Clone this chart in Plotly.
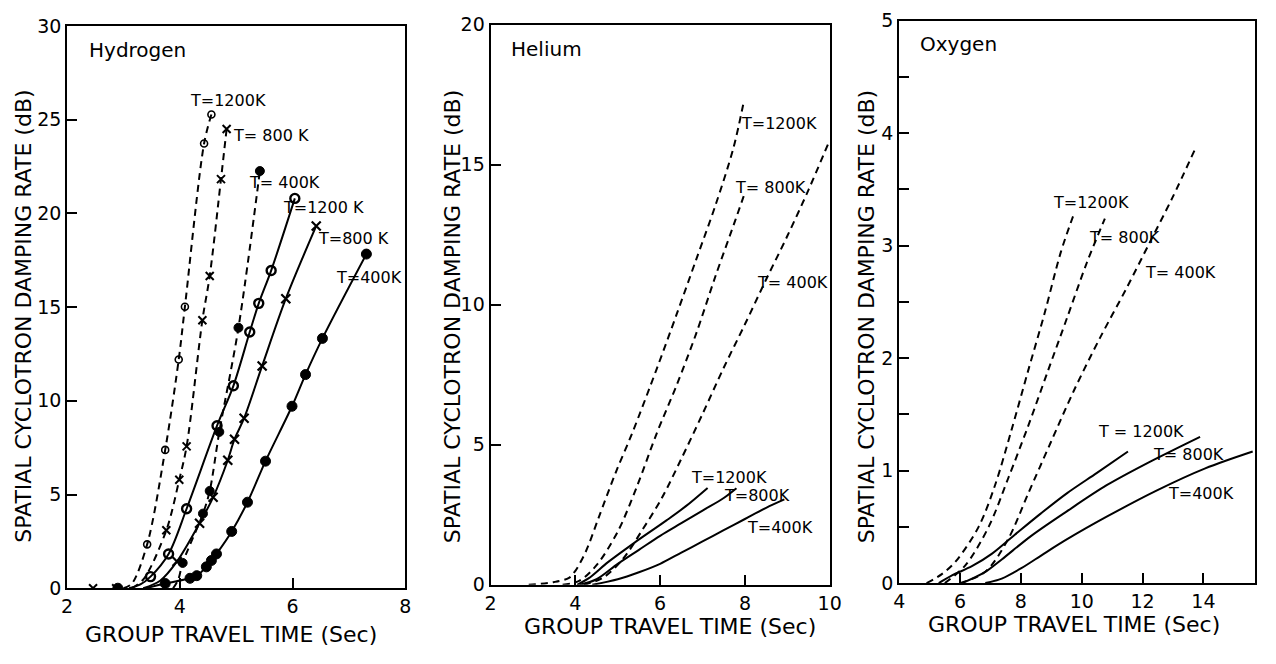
import plotly.graph_objects as go

# ---------------- Hydrogen (measured points + lead-in toward zero) ----------------
H_D1200_T = [3.42, 3.74, 3.98, 4.09, 4.43, 4.56]
H_D1200_DB = [2.34, 7.38, 12.2, 15.02, 23.73, 25.28]
H_D1200_LEAD_T = [3.0, 3.15]
H_D1200_LEAD_DB = [0.0, 0.25]

H_D800_T = [2.46, 2.87, 3.76, 3.99, 4.12, 4.40, 4.53, 4.73, 4.83]
H_D800_DB = [0.0, 0.0, 3.09, 5.79, 7.57, 14.3, 16.66, 21.83, 24.5]
H_D800_LEAD_T = [3.15, 3.36]
H_D800_LEAD_DB = [0.0, 0.5]

H_D400_T = [4.05, 4.41, 4.53, 4.70, 5.04, 5.42]
H_D400_DB = [1.35, 3.98, 5.19, 8.34, 13.9, 22.26]
H_D400_LEAD_T = [3.88, 3.97]
H_D400_LEAD_DB = [0.0, 0.45]

H_S1200_T = [3.48, 3.80, 4.12, 4.66, 4.95, 5.24, 5.40, 5.62, 6.04]
H_S1200_DB = [0.62, 1.83, 4.24, 8.67, 10.8, 13.67, 15.2, 16.95, 20.8]
H_S1200_LEAD_T = [3.1, 3.3]
H_S1200_LEAD_DB = [0.0, 0.2]

H_S800_T = [3.95, 4.35, 4.59, 4.85, 4.97, 5.14, 5.46, 5.88, 6.42]
H_S800_DB = [1.43, 3.47, 4.85, 6.83, 7.95, 9.07, 11.86, 15.45, 19.33]
H_S800_LEAD_T = [3.35, 3.65]
H_S800_LEAD_DB = [0.0, 0.4]

H_S400_T = [2.90, 3.74, 4.18, 4.30, 4.47, 4.56, 4.65, 4.92, 5.20, 5.52, 5.99, 6.23, 6.53, 7.31]
H_S400_DB = [0.0, 0.25, 0.53, 0.67, 1.14, 1.48, 1.83, 3.03, 4.59, 6.78, 9.71, 11.4, 13.33, 17.83]
H_S400_LEAD_T = [3.4]
H_S400_LEAD_DB = [0.0]

# ---------------- Helium (computed curves) ----------------
HE_D1200_T = [2.9, 3.5, 3.85, 4.0, 4.25, 4.55, 4.95, 5.35, 5.92, 6.39, 6.85, 7.31, 7.73, 7.98]
HE_D1200_DB = [0.0, 0.1, 0.25, 0.5, 1.2, 2.4, 4.0, 5.45, 7.71, 9.66, 11.61, 13.57, 15.6, 17.3]
HE_D800_T = [3.7, 4.1, 4.5, 5.0, 5.45, 5.92, 6.39, 6.85, 7.31, 7.77, 8.0]
HE_D800_DB = [0.0, 0.15, 0.7, 1.9, 3.5, 5.41, 7.13, 8.97, 11.04, 13.0, 14.0]
HE_D400_T = [4.2, 4.65, 5.12, 5.58, 6.04, 6.5, 7.0, 7.5, 8.0, 8.5, 9.0, 9.5, 9.98]
HE_D400_DB = [0.0, 0.25, 0.92, 1.96, 3.1, 4.5, 6.1, 7.75, 9.3, 10.9, 12.45, 14.1, 15.8]
HE_S1200_T = [4.04, 4.31, 4.77, 5.39, 6.15, 6.6, 7.12]
HE_S1200_DB = [0.0, 0.23, 0.81, 1.5, 2.3, 2.8, 3.46]
HE_S800_T = [4.1, 4.5, 5.0, 5.5, 6.0, 6.5, 7.0, 7.5, 7.8]
HE_S800_DB = [0.0, 0.2, 0.75, 1.25, 1.75, 2.2, 2.65, 3.1, 3.45]
HE_S400_T = [4.4, 5.0, 5.5, 6.0, 6.5, 7.0, 7.5, 8.0, 8.5, 8.93]
HE_S400_DB = [0.0, 0.2, 0.45, 0.75, 1.15, 1.55, 1.95, 2.35, 2.75, 3.05]

# ---------------- Oxygen (computed curves) ----------------
O_D1200_T = [4.9, 5.4, 5.85, 6.61, 7.15, 7.69, 8.23, 8.77, 9.31, 9.74]
O_D1200_DB = [0.0, 0.08, 0.19, 0.50, 0.87, 1.36, 1.88, 2.39, 2.94, 3.28]
O_D800_T = [5.5, 6.18, 6.94, 7.58, 8.23, 8.88, 9.52, 10.17, 10.76]
O_D800_DB = [0.0, 0.16, 0.50, 0.93, 1.39, 1.88, 2.36, 2.85, 3.24]
O_D400_T = [6.0, 6.83, 7.58, 8.23, 8.98, 9.74, 10.60, 11.47, 12.22, 12.97, 13.73]
O_D400_DB = [0.0, 0.10, 0.39, 0.79, 1.25, 1.71, 2.18, 2.62, 3.02, 3.42, 3.86]
O_S1200_T = [5.3, 5.75, 6.39, 7.04, 7.80, 8.66, 9.52, 10.50, 11.52]
O_S1200_DB = [0.0, 0.07, 0.15, 0.26, 0.43, 0.62, 0.80, 0.98, 1.17]
O_S800_T = [6.07, 6.83, 7.37, 8.34, 9.52, 10.82, 12.11, 13.89]
O_S800_DB = [0.0, 0.10, 0.21, 0.42, 0.64, 0.87, 1.06, 1.30]
O_S400_T = [6.83, 7.37, 8.0, 8.75, 9.52, 10.82, 12.44, 14.06, 15.62]
O_S400_DB = [0.0, 0.04, 0.13, 0.26, 0.39, 0.59, 0.82, 1.02, 1.17]

# ---------------- curve labels: (text, t, dB) ----------------
H_LABELS = [("T=1200K", 4.15, 26.0), ("T= 800 K", 4.90, 24.16), ("T= 400K", 5.20, 21.66),
            ("T=1200 K", 5.80, 20.33), ("T=800 K", 6.42, 18.68), ("T=400K", 6.74, 16.57)]
HE_LABELS = [("T=1200K", 7.87, 16.45), ("T= 800K", 7.71, 14.2), ("T= 400K", 8.24, 10.8),
             ("T=1200K", 6.68, 3.82), ("T=800K", 7.45, 3.2), ("T=400K", 8.0, 2.05)]
O_LABELS = [("T=1200K", 8.98, 3.38), ("T= 800K", 10.17, 3.07), ("T= 400K", 12.03, 2.76),
            ("T = 1200K", 10.47, 1.35), ("T= 800K", 12.27, 1.14), ("T=400K", 12.76, 0.80)]

PANEL_NAMES = [("Hydrogen", 2.36, 28.7), ("Helium", 2.43, 19.14), ("Oxygen", 4.61, 4.79)]

FONT = "DejaVu Sans"
INK = "black"
W, H = 1276, 664

fig = go.Figure()


def curve(x, y, axis, dashed):
    fig.add_trace(go.Scatter(
        x=x, y=y, mode="lines", xaxis=axis[0], yaxis=axis[1],
        line=dict(color=INK, width=2, dash="7px,5px" if dashed else "solid",
                  shape="spline", smoothing=0.9),
        hoverinfo="skip"))


def points(x, y, axis, symbol, size, lw):
    fig.add_trace(go.Scatter(
        x=x, y=y, mode="markers", xaxis=axis[0], yaxis=axis[1],
        marker=dict(symbol=symbol, size=size, color=INK,
                    line=dict(color=INK, width=lw)),
        hoverinfo="skip"))


HAX = ("x", "y")
HEAX = ("x2", "y2")
OAX = ("x3", "y3")

# Hydrogen: curves drawn through lead-in + measured points (zero-line points excluded)
for lead_t, lead_db, pt, pdb, dashed in [
        (H_D1200_LEAD_T, H_D1200_LEAD_DB, H_D1200_T, H_D1200_DB, True),
        (H_D800_LEAD_T, H_D800_LEAD_DB, H_D800_T, H_D800_DB, True),
        (H_D400_LEAD_T, H_D400_LEAD_DB, H_D400_T, H_D400_DB, True),
        (H_S1200_LEAD_T, H_S1200_LEAD_DB, H_S1200_T, H_S1200_DB, False),
        (H_S800_LEAD_T, H_S800_LEAD_DB, H_S800_T, H_S800_DB, False),
        (H_S400_LEAD_T, H_S400_LEAD_DB, H_S400_T, H_S400_DB, False)]:
    ct = lead_t + [t for t, d in zip(pt, pdb) if d > 0]
    cd = lead_db + [d for d in pdb if d > 0]
    curve(ct, cd, HAX, dashed)

points(H_D1200_T, H_D1200_DB, HAX, "circle-open", 7, 1.6)
points(H_D800_T, H_D800_DB, HAX, "x-thin-open", 8, 2)
points(H_D400_T, H_D400_DB, HAX, "circle", 9, 1)
points(H_S1200_T, H_S1200_DB, HAX, "circle-open", 9, 2.4)
points(H_S800_T, H_S800_DB, HAX, "x-thin-open", 9, 2.2)
points(H_S400_T, H_S400_DB, HAX, "circle", 10, 1)

for x, y, d in [(HE_D1200_T, HE_D1200_DB, True), (HE_D800_T, HE_D800_DB, True),
                (HE_D400_T, HE_D400_DB, True), (HE_S1200_T, HE_S1200_DB, False),
                (HE_S800_T, HE_S800_DB, False), (HE_S400_T, HE_S400_DB, False)]:
    curve(x, y, HEAX, d)

for x, y, d in [(O_D1200_T, O_D1200_DB, True), (O_D800_T, O_D800_DB, True),
                (O_D400_T, O_D400_DB, True), (O_S1200_T, O_S1200_DB, False),
                (O_S800_T, O_S800_DB, False), (O_S400_T, O_S400_DB, False)]:
    curve(x, y, OAX, d)


def px_x(p):
    return p / W


def px_y(p):
    return 1 - p / H


tick_font = dict(family=FONT, size=19, color=INK)
common = dict(showline=True, linecolor=INK, linewidth=2, mirror=True, showgrid=False,
              zeroline=False, ticks="inside", ticklen=10, tickwidth=2, tickcolor=INK,
              tickfont=tick_font, fixedrange=True)

O_YTICKS = [i * 0.5 for i in range(11)]
O_YTEXT = [str(int(v)) if v == int(v) else "" for v in O_YTICKS]

fig.update_layout(
    width=W, height=H, margin=dict(l=0, r=0, t=0, b=0),
    paper_bgcolor="white", plot_bgcolor="white", showlegend=False,
    xaxis=dict(domain=[px_x(62), px_x(405)], range=[2, 8], tickvals=[2, 4, 6, 8],
               anchor="y", **common),
    yaxis=dict(domain=[px_y(597), px_y(15.5)], range=[0, 30], tickvals=list(range(0, 31, 5)),
               anchor="x", **common),
    xaxis2=dict(domain=[px_x(491.5), px_x(835.5)], range=[2, 10], tickvals=[2, 4, 6, 8, 10],
                anchor="y2", **common),
    yaxis2=dict(domain=[px_y(593.5), px_y(14)], range=[0, 20], tickvals=[0, 5, 10, 15, 20],
                anchor="x2", **common),
    xaxis3=dict(domain=[px_x(906), px_x(1267)], range=[4, 15.7], tickvals=[4, 6, 8, 10, 12, 14],
                anchor="y3", **common),
    yaxis3=dict(domain=[px_y(591.7), px_y(10)], range=[0, 5], tickvals=O_YTICKS,
                ticktext=O_YTEXT, anchor="x3", **common),
)

ann = []
lab_font = dict(family=FONT, size=16, color=INK)
for labels, xr, yr in [(H_LABELS, "x", "y"), (HE_LABELS, "x2", "y2"), (O_LABELS, "x3", "y3")]:
    for text, t, db in labels:
        ann.append(dict(text=text, x=t, y=db, xref=xr, yref=yr, xanchor="left",
                        yanchor="middle", showarrow=False, font=lab_font))

for (name, t, db), (xr, yr) in zip(PANEL_NAMES, [("x", "y"), ("x2", "y2"), ("x3", "y3")]):
    ann.append(dict(text=name, x=t, y=db, xref=xr, yref=yr, xanchor="left",
                    yanchor="middle", showarrow=False,
                    font=dict(family=FONT, size=20, color=INK)))

title_font = dict(family=FONT, size=22, color=INK)
for cx in [17.5, 453, 873]:
    ann.append(dict(text="SPATIAL CYCLOTRON DAMPING RATE (dB)", x=px_x(cx), y=px_y(316),
                    xref="paper", yref="paper", xanchor="center", yanchor="middle",
                    textangle=-90, showarrow=False, font=title_font))
for cx, cy in [(228, 645), (673, 637), (1083, 635)]:
    ann.append(dict(text="GROUP TRAVEL TIME (Sec)", x=px_x(cx), y=px_y(cy),
                    xref="paper", yref="paper", xanchor="center", yanchor="middle",
                    showarrow=False, font=title_font))

fig.update_layout(annotations=ann)

fig.write_html("out.html")
